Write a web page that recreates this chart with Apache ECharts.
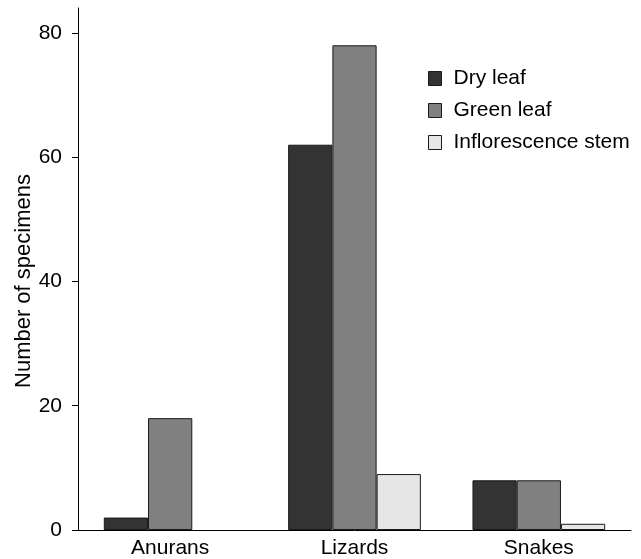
<!DOCTYPE html>
<html><head><meta charset="utf-8">
<script src="https://cdn.jsdelivr.net/npm/echarts@6/dist/echarts.min.js"></script>
<style>html,body{margin:0;padding:0;background:#fff}#c{width:641px;height:559px}</style>
</head><body><div id="c"></div>
<script>
var categories = ['Anurans', 'Lizards', 'Snakes'];
var dryLeaf = [2, 62, 8];
var greenLeaf = [18, 78, 8];
var inflorescence = [0, 9, 1];
var yTicks = [0, 20, 40, 60, 80];

var font = 'Liberation Sans, Arial, sans-serif';
var chart = echarts.init(document.getElementById('c'));
function ser(name, data, color) {
  return {
    name: name, type: 'bar', barGap: '0%', barCategoryGap: '28%',
    data: data.map(function (v) { return v === 0 ? { value: v, itemStyle: { borderWidth: 0 } } : v; }),
    itemStyle: { color: color, borderColor: '#1a1a1a', borderWidth: 1 }
  };
}
chart.setOption({
  animation: false,
  grid: { left: 78, right: 10, top: 8, bottom: 29, containLabel: false },
  legend: {
    orient: 'vertical', left: 428, top: 68, padding: 0, itemWidth: 13, itemHeight: 14, itemGap: 11,
    icon: 'rect',
    textStyle: { fontFamily: font, fontSize: 21, lineHeight: 21, color: '#000', padding: [0, 0, 0, 7] },
    itemStyle: { borderColor: '#1a1a1a', borderWidth: 1 },
    data: ['Dry leaf', 'Green leaf', 'Inflorescence stem']
  },
  xAxis: {
    type: 'category', data: categories,
    axisLine: { lineStyle: { color: '#000', width: 1 } },
    axisTick: { show: false },
    axisLabel: { fontFamily: font, fontSize: 21, color: '#000', margin: 8 }
  },
  yAxis: {
    type: 'value', min: 0, max: 84, interval: 20,
    name: 'Number of specimens', nameLocation: 'middle', nameGap: 43, nameMoveOverlap: false,
    nameTextStyle: { fontFamily: font, fontSize: 22, color: '#000', padding: [0, 24, 0, 0] },
    axisLine: { show: true, lineStyle: { color: '#000', width: 1 } },
    axisTick: { show: true, length: 6, customValues: yTicks, lineStyle: { color: '#000' } },
    axisLabel: { fontFamily: font, fontSize: 21, color: '#000', margin: 16, customValues: yTicks },
    splitLine: { show: false }
  },
  series: [
    ser('Dry leaf', dryLeaf, '#333333'),
    ser('Green leaf', greenLeaf, '#808080'),
    ser('Inflorescence stem', inflorescence, '#e6e6e6')
  ]
});
</script></body></html>
